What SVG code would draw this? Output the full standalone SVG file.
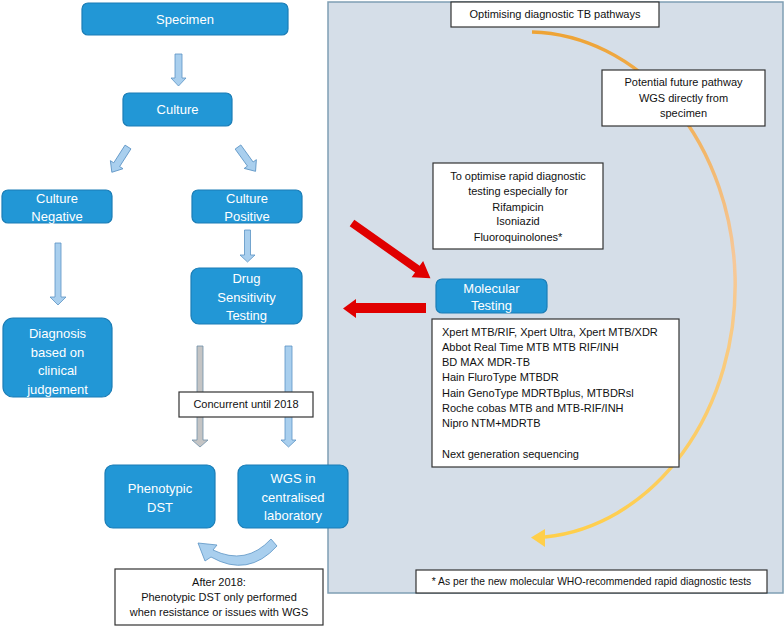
<svg xmlns="http://www.w3.org/2000/svg" width="784" height="627" viewBox="0 0 784 627">
<defs>
<style>
.node{fill:#2297d6;stroke:#1b7db6;stroke-width:1.2}
.nt{font-family:"Liberation Sans",Arial,sans-serif;font-size:13px;fill:#ffffff;text-anchor:middle}
.box{fill:#ffffff;stroke:#333333;stroke-width:1.2}
.bt{font-family:"Liberation Sans",Arial,sans-serif;font-size:11px;fill:#111111;text-anchor:middle}
.lt{font-family:"Liberation Sans",Arial,sans-serif;font-size:11px;fill:#111111}
.ba{fill:#a9cfee;stroke:#5b93c4;stroke-width:0.8}
.ga{fill:#c4c4c4;stroke:#6f8fa8;stroke-width:0.8}
.red{fill:#e00000}
</style>
<linearGradient id="og" gradientUnits="userSpaceOnUse" x1="0" y1="30" x2="0" y2="540">
<stop offset="0" stop-color="#eea334"/>
<stop offset="0.45" stop-color="#f6c89a"/>
<stop offset="1" stop-color="#ffcf4a"/>
</linearGradient>
</defs>
<rect x="328" y="2" width="455" height="591" fill="#d5dee8" stroke="#7f9fb4" stroke-width="1.5"/>
<g id="connectors">
<polygon class="ba" points="175,54 182,54 182,78 186,78 178.5,86 171,78 175,78"/>
<g transform="translate(128,147) rotate(32.6)"><polygon class="ba" points="-3.5,0 3.5,0 3.5,21 7.5,21 0,30 -7.5,21 -3.5,21"/></g>
<g transform="translate(238,147) rotate(-35.8)"><polygon class="ba" points="-3.5,0 3.5,0 3.5,21 7.5,21 0,30 -7.5,21 -3.5,21"/></g>
<polygon class="ba" points="55,243 61,243 61,297 66,297 58,305 50,297 55,297"/>
<polygon class="ba" points="244.5,230 250.5,230 250.5,255 255,255 247.5,262 240,255 244.5,255"/>
<polygon class="ga" points="197,346 203,346 203,440 208,440 200,447 192,440 197,440"/>
<polygon class="ba" points="285,346 292,346 292,440 296,440 288.5,447 281,440 285,440"/>
<path class="ba" d="M271,539 L277,546 Q248,578 211,557 L205,561 L198,543 L217,545 L213,550 Q246,566 271,539 Z"/>
<g transform="translate(352,223) rotate(35.2)"><polygon class="red" points="0,-4 80,-4 80,-10 96,0 80,10 80,4 0,4"/></g>
<polygon class="red" points="426,303 356,303 356,299 343,308.5 356,318 356,313 426,313"/>
<path d="M532,32 A208,253 0 0 1 545,537" fill="none" stroke="url(#og)" stroke-width="3.5"/>
<polygon points="545,529 531,537.5 545,547" fill="#ffcf4a"/>
</g>
<g id="specimen"><rect class="node" x="82" y="3" width="206" height="32" rx="6"/><text class="nt" x="185" y="24">Specimen</text></g>
<g id="culture"><rect class="node" x="123" y="93" width="109" height="33" rx="6"/><text class="nt" x="177.5" y="114">Culture</text></g>
<g id="culture-negative"><rect class="node" x="2" y="190" width="110" height="33" rx="6"/><text class="nt" x="57" y="203">Culture</text><text class="nt" x="57" y="221">Negative</text></g>
<g id="culture-positive"><rect class="node" x="192" y="190" width="110" height="33" rx="6"/><text class="nt" x="247" y="203">Culture</text><text class="nt" x="247" y="221">Positive</text></g>
<g id="dst"><rect class="node" x="191" y="268" width="111" height="56" rx="8"/><text class="nt" x="246.5" y="283">Drug</text><text class="nt" x="246.5" y="302">Sensitivity</text><text class="nt" x="246.5" y="320">Testing</text></g>
<g id="diagnosis"><rect class="node" x="3" y="318" width="109" height="79" rx="10"/><text class="nt" x="57.5" y="338">Diagnosis</text><text class="nt" x="57.5" y="357">based on</text><text class="nt" x="57.5" y="375">clinical</text><text class="nt" x="57.5" y="394">judgement</text></g>
<g id="phenotypic-dst"><rect class="node" x="105" y="465" width="110" height="63" rx="8"/><text class="nt" x="160" y="493">Phenotypic</text><text class="nt" x="160" y="512">DST</text></g>
<g id="wgs"><rect class="node" x="238" y="465" width="110" height="63" rx="8"/><text class="nt" x="293" y="483">WGS in</text><text class="nt" x="293" y="502">centralised</text><text class="nt" x="293" y="520">laboratory</text></g>
<g id="molecular-testing"><rect class="node" x="436" y="279" width="111" height="34" rx="6"/><text class="nt" x="491.5" y="293">Molecular</text><text class="nt" x="491.5" y="310">Testing</text></g>
<g id="concurrent"><rect class="box" x="179" y="392" width="134" height="25"/><text class="bt" x="246" y="408">Concurrent until 2018</text></g>
<g id="after-2018"><rect class="box" x="115" y="569" width="208" height="56"/><text class="bt" x="219" y="586">After 2018:</text><text class="bt" x="219" y="601">Phenotypic DST only performed</text><text class="bt" x="219" y="616">when resistance or issues with WGS</text></g>
<g id="optimising"><rect class="box" x="451" y="2" width="208" height="25"/><text class="bt" x="555" y="18">Optimising diagnostic TB pathways</text></g>
<g id="potential"><rect class="box" x="602" y="70" width="163" height="56"/><text class="bt" x="683.5" y="86">Potential future pathway</text><text class="bt" x="683.5" y="102">WGS directly from</text><text class="bt" x="683.5" y="117">specimen</text></g>
<g id="to-optimise"><rect class="box" x="433" y="163" width="170" height="86"/><text class="bt" x="518" y="180">To optimise rapid diagnostic</text><text class="bt" x="518" y="195">testing especially for</text><text class="bt" x="518" y="211">Rifampicin</text><text class="bt" x="518" y="225">Isoniazid</text><text class="bt" x="518" y="241">Fluoroquinolones*</text></g>
<g id="molecular-list"><rect class="box" x="432" y="319" width="247" height="148"/>
<text class="lt" x="442" y="336">Xpert MTB/RIF, Xpert Ultra, Xpert MTB/XDR</text>
<text class="lt" x="442" y="351">Abbot Real Time MTB MTB RIF/INH</text>
<text class="lt" x="442" y="366">BD MAX MDR-TB</text>
<text class="lt" x="442" y="381">Hain FluroType MTBDR</text>
<text class="lt" x="442" y="397">Hain GenoType  MDRTBplus, MTBDRsl</text>
<text class="lt" x="442" y="412">Roche cobas MTB and MTB-RIF/INH</text>
<text class="lt" x="442" y="427">Nipro NTM+MDRTB</text>
<text class="lt" x="442" y="458">Next generation sequencing</text>
</g>
<g id="footnote"><rect class="box" x="416" y="570" width="351" height="23"/><text class="bt" x="591.5" y="585" style="font-size:10.3px">* As per the new molecular WHO-recommended rapid diagnostic tests</text></g>
</svg>
